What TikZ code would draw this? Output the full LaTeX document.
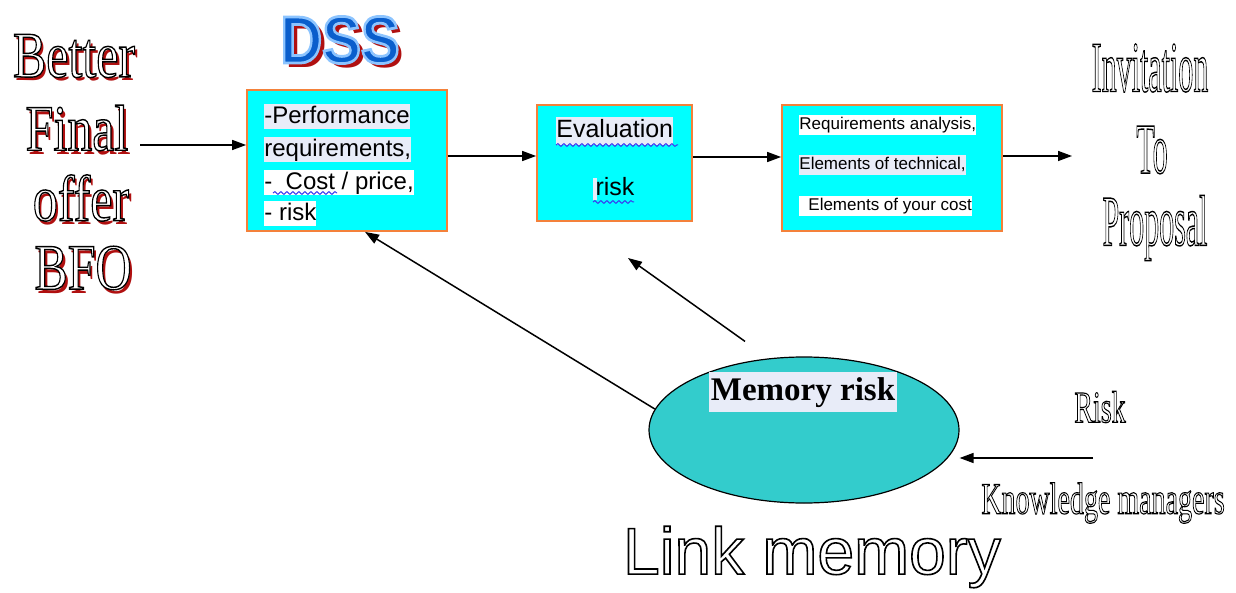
\documentclass[tikz,border=0pt]{standalone}
\usepackage{fontspec}
\setmainfont{Liberation Serif}
\setsansfont{Liberation Sans}
\usetikzlibrary{shapes.geometric,arrows.meta,decorations.pathmorphing,calc}

\definecolor{boxcyan}{HTML}{00FFFF}
\definecolor{boxedge}{HTML}{F4813A}
\definecolor{memfill}{HTML}{33CCCC}
\definecolor{hl}{HTML}{E8ECF8}
\definecolor{shadowred}{HTML}{B01010}
\definecolor{wavyblue}{HTML}{3A3AF0}

% hollow lettering: glyphs filled with one colour and stroked with another
% #1 stroke width (bp), #2 stroke rgb, #3 fill rgb, #4 text
\newcommand{\hollow}[4]{\special{pdf:code q 2 Tr #1 w #2 RG #3 rg}#4\special{pdf:code Q}}

\begin{document}
\begin{tikzpicture}[x=0.5pt,y=-0.5pt,
  box/.style={draw=boxedge, fill=boxcyan, line width=0.9pt, inner sep=0pt},
  arr/.style={-{Triangle[length=7pt,width=5pt]}, line width=0.75pt},
  bigline/.style={font=\sffamily\fontsize{12}{14}\selectfont, inner xsep=0pt, inner ysep=0pt,
                  text height=9.5pt, text depth=3pt, anchor=west},
  midline/.style={font=\sffamily\fontsize{12.5}{14}\selectfont, inner xsep=0pt, inner ysep=0pt,
                  text height=10.5pt, text depth=3.5pt},
  smallline/.style={font=\sffamily\fontsize{8.5}{10}\selectfont, inner xsep=0pt, inner ysep=0pt,
                  text height=7.5pt, text depth=2.5pt, anchor=west},
  bfo/.style={font=\fontsize{25}{25}\selectfont, inner sep=0pt},
  tall/.style={font=\fontsize{15}{15}\selectfont, inner sep=0pt},
  side/.style={font=\fontsize{14}{14}\selectfont, inner sep=0pt},
  dss/.style={font=\sffamily\bfseries\fontsize{29}{29}\selectfont, inner sep=0pt},
  squiggle/.style={draw=wavyblue, line width=0.5pt, decorate,
                   decoration={snake, amplitude=0.7pt, segment length=3pt}}]
\useasboundingbox (0,0) rectangle (1236,593);

% --- title word art on the left: Better Final offer BFO
\node[bfo, text=shadowred] (better-s) at (77,60)  {\scalebox{1}[1.3]{Better}};
\node[bfo] (better) at (74,56) {\hollow{0.55}{0 0 0}{1 1 1}{\scalebox{1}[1.3]{Better}}};
\node[bfo, text=shadowred] (final-s) at (80,132) {\scalebox{1}[1.3]{Final}};
\node[bfo] (final) at (77,128) {\hollow{0.55}{0 0 0}{1 1 1}{\scalebox{1}[1.3]{Final}}};
\node[bfo, text=shadowred] (offer-s) at (84,202) {\scalebox{1}[1.3]{offer}};
\node[bfo] (offer) at (81,198) {\hollow{0.55}{0 0 0}{1 1 1}{\scalebox{1}[1.3]{offer}}};
\node[bfo, text=shadowred] (bfo-s) at (86,272) {\scalebox{1}[1.3]{BFO}};
\node[bfo] (bfoword) at (83,268) {\hollow{0.55}{0 0 0}{1 1 1}{\scalebox{1}[1.3]{BFO}}};

% --- DSS heading
\node[dss, text=shadowred] (dss-s) at (345,45) {\scalebox{1}[1.15]{DSS}};
\node[dss] (dss) at (340,40) {\hollow{1.2}{0.55 0.77 1}{0.04 0.37 0.8}{\scalebox{1}[1.15]{DSS}}};

% --- process boxes
\node[box, minimum width=100pt, minimum height=70.5pt] (b1) at (347,160.5) {};
\node[box, minimum width=77.5pt, minimum height=58pt] (b2) at (614.5,163) {};
\node[box, minimum width=110pt, minimum height=63pt] (b3) at (892,168) {};

% box 1 text
\node[bigline, fill=hl] (p1) at (264,117) {-Performance\hspace{5pt}};
\node[bigline, fill=hl] (p2) at (264,150) {requirements,\hspace{4pt}};
\node[bigline, fill=white] (p3) at (264,183) {-\ \ Cost / price,\hspace{3pt}};
\node[bigline, fill=white] (p4) at (264,214) {- risk};
\draw[squiggle] (273,193) -- (337,193);

% box 2 text
\node[midline, fill=hl, anchor=west] (e1) at (556,131) {Evaluation\hspace{3pt}};
\draw[squiggle] (556,145) -- (678,145);
\node[fill=hl, inner sep=0pt, minimum width=2pt, minimum height=11pt] (cur) at (595,189) {};
\node[midline] (e2) at (615,189) {risk};
\draw[squiggle] (593,202) -- (634,202);

% box 3 text
\node[smallline, fill=white] (r1) at (799,125) {Requirements analysis,\hspace{4pt}};
\node[smallline, fill=hl] (r2) at (799,165) {Elements of technical,\hspace{3pt}};
\node[smallline, fill=white] (r3) at (799,206) {\hspace{4.5pt}Elements of your cost};

% --- right-hand heading
\node[tall] (inv) at (1150,68) {\hollow{0.3}{0 0 0}{1 1 1}{\scalebox{1}[2.4]{Invitation}}};
\node[tall] (to) at (1152,150) {\hollow{0.3}{0 0 0}{1 1 1}{\scalebox{1}[2.4]{To}}};
\node[tall] (prop) at (1155,228) {\hollow{0.3}{0 0 0}{1 1 1}{\scalebox{1}[2.4]{Proposal}}};

% --- memory ellipse
\node[ellipse, draw=black, line width=0.6pt, fill=memfill,
      minimum width=155pt, minimum height=73pt] (mem) at (804,430) {};
\node[font=\bfseries\fontsize{16.5}{18}\selectfont, fill=hl, inner xsep=1pt,
      text height=12.5pt, text depth=4.5pt, inner ysep=1.5pt] (memtxt) at (803,392) {Memory risk};

\node[side] (risk) at (1100,407) {\hollow{0.35}{0 0 0}{1 1 1}{\scalebox{1}[1.6]{Risk}}};
\node[side] (km) at (1103,503) {\hollow{0.35}{0 0 0}{1 1 1}{\scalebox{1}[1.6]{Knowledge managers}}};

\node[font=\sffamily\fontsize{33}{33}\selectfont, inner sep=0pt] (link) at (812,557)
  {\hollow{0.8}{0 0 0}{1 1 1}{Link memory}};

% --- connectors
\coordinate (bfoout) at (140,145);
\coordinate (lvl1) at (0,156);
\coordinate (lvl2) at (0,157);
\coordinate (outend) at (1072,156);
\coordinate (upend) at (628,258);
\coordinate (kmin) at (1093,458);

\draw[arr] (bfoout) -- (bfoout -| b1.west);
\draw[arr] (b1.east |- lvl1) -- (b2.west |- lvl1);
\draw[arr] (b2.east |- lvl2) -- (b3.west |- lvl2);
\draw[arr] (b3.east |- outend) -- (outend);
\draw[arr] (mem.172) -- ($(b1.south)+(18,0)$);
\draw[arr] ($(mem.north)+(-59,-15)$) -- (upend);
\draw[arr] (kmin) -- (kmin -| mem.east);
\end{tikzpicture}
\end{document}
